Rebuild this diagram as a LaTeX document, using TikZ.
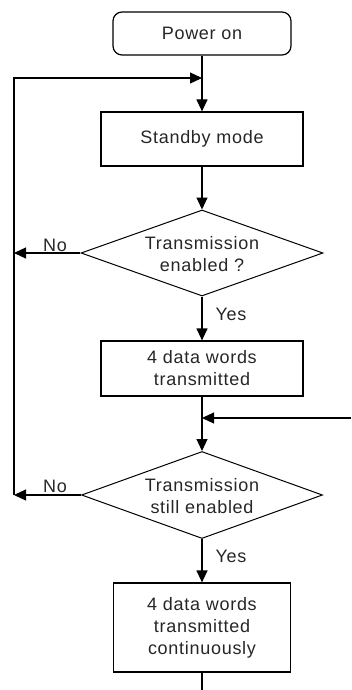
\documentclass[tikz,border=0pt]{standalone}
\usepackage{fontspec}
\setmainfont{Liberation Sans}[LetterSpace=4]
\usetikzlibrary{arrows.meta,shapes.geometric}
\begin{document}
\begin{tikzpicture}[x=1bp,y=-1bp,
  every node/.style={font=\fontsize{18bp}{22bp}\selectfont, text=black!85},
  box/.style={draw=black, line width=1.2bp, rectangle, inner sep=0pt, align=center},
  dia/.style={draw=black, line width=1bp, diamond, inner sep=0pt},
  txt/.style={align=center, inner sep=0pt},
  arr/.style={line width=1.2bp, -{Triangle[length=12bp,width=11bp]}},
  ln/.style={line width=1.2bp}]
\useasboundingbox (0,0) rectangle (351,690);
\node[box, rounded corners=9bp, minimum width=178bp, minimum height=43bp] (pow) at (202,33.5) {Power on};
\node[box, minimum width=202bp, minimum height=54bp] (stby) at (202,139) {Standby mode};
\node[dia, minimum width=242bp, minimum height=86bp] (d1) at (202,253) {};
\node[txt] (d1t) at (202,254) {Transmission\\enabled ?};
\node[box, minimum width=202bp, minimum height=55bp] (b2) at (202,368.5) {4 data words\\transmitted};
\node[dia, minimum width=241bp, minimum height=87bp] (d2) at (202,495) {};
\node[txt] (d2t) at (202,496) {Transmission\\still enabled};
\node[box, minimum width=177bp, minimum height=89bp] (b3) at (202,627.5) {4 data words\\transmitted\\continuously};

\coordinate (top) at (14,78);
\coordinate (J1) at (202,78);
\coordinate (L1) at (14,253);
\coordinate (L2) at (14,495);
\coordinate (R) at (351,418);
\coordinate (J2) at (202,418);
\coordinate (bot) at (202,690);

\draw[arr] (pow.south) -- (stby.north);
\draw[arr] (stby.south) -- (d1.north);
\draw[arr] (d1.west) -- (L1);
\draw[arr] (d1.south) -- (b2.north);
\draw[arr] (b2.south) -- (d2.north);
\draw[arr] (R) -- (J2);
\draw[arr] (d2.west) -- (L2);
\draw[arr] (L2) -- (top) -- (J1);
\draw[arr] (d2.south) -- (b3.north);
\draw[ln] (b3.south) -- (bot);

\node[txt] (no1) at (55,245) {No};
\node[txt] (no2) at (55,486) {No};
\node[txt] (yes1) at (231,314) {Yes};
\node[txt] (yes2) at (231,556) {Yes};
\end{tikzpicture}
\end{document}
